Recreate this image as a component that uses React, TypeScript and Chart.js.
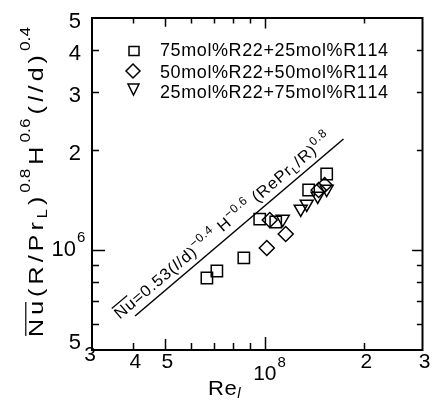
import React, { useEffect, useRef } from 'react';
import { Chart, registerables } from 'chart.js';

Chart.register(...registerables);

// ---- data ----
const squaresX = [6.68e7, 7.16e7, 8.64e7, 9.65e7, 1.079e8, 1.357e8, 1.539e8];
const squaresY = [8.24e5, 8.65e5, 9.47e5, 1.24e6, 1.215e6, 1.517e6, 1.695e6];
const diamondsX = [1.014e8, 1.035e8, 1.157e8, 1.455e8, 1.517e8];
const diamondsY = [1.014e6, 1.232e6, 1.118e6, 1.517e6, 1.57e6];
const trianglesX = [1.133e8, 1.284e8, 1.339e8, 1.445e8, 1.539e8];
const trianglesY = [1.24e6, 1.33e6, 1.377e6, 1.455e6, 1.527e6];
const lineX = [4.05e7, 1.73e8];
const lineY = [6.33e5, 2.16e6];

const seriesNames = ['75mol%R22+25mol%R114', '50mol%R22+50mol%R114', '25mol%R22+75mol%R114'];

const xMin = 3e7;
const xMax = 3e8;
const yMin = 5e5;
const yMax = 5e6;
const xTickValues = [4e7, 5e7, 6e7, 7e7, 8e7, 9e7, 1e8, 2e8];
const yTickValues = [6e5, 7e5, 8e5, 9e5, 1e6, 2e6, 3e6, 4e6];
const xLabelValues = [3e7, 4e7, 5e7, 1e8, 2e8, 3e8];
const xLabelTexts = ['3', '4', '5', '10^8', '2', '3'];
const yLabelValues = [5e5, 1e6, 2e6, 3e6, 4e6, 5e6];
const yLabelTexts = ['5', '10^6', '2', '3', '4', '5'];

const FONT = '"Liberation Sans", Arial, Helvetica, sans-serif';

type Seg = { t: string; size: number; dy?: number; italic?: boolean; bar?: boolean; sx?: number; tight?: boolean };

function setFont(ctx: CanvasRenderingContext2D, s: Seg) {
  ctx.font = `${s.italic ? 'italic ' : ''}${s.size}px ${FONT}`;
}

function measureSegs(ctx: CanvasRenderingContext2D, segs: Seg[]) {
  let w = 0;
  let n = 0;
  for (const s of segs) {
    setFont(ctx, s);
    const chars = Array.from(s.t);
    chars.forEach((ch, j) => {
      w += ctx.measureText(ch).width * (s.sx || 1);
      if (!(s.tight && j < chars.length - 1)) n++;
    });
  }
  return { w, n };
}

function drawSegs(ctx: CanvasRenderingContext2D, segs: Seg[], spacing: number) {
  let cx = 0;
  ctx.textAlign = 'left';
  ctx.textBaseline = 'alphabetic';
  for (const s of segs) {
    setFont(ctx, s);
    const k = s.sx || 1;
    const start = cx;
    let end = cx;
    const chars = Array.from(s.t);
    chars.forEach((ch, j) => {
      ctx.save();
      ctx.translate(cx, s.dy || 0);
      ctx.scale(k, 1);
      ctx.fillText(ch, 0, 0);
      ctx.restore();
      end = cx + ctx.measureText(ch).width * k;
      cx = end + (s.tight && j < chars.length - 1 ? 0 : spacing);
    });
    if (s.bar) {
      const by = (s.dy || 0) - s.size * 0.86;
      ctx.beginPath();
      ctx.lineWidth = 1.2;
      ctx.moveTo(start + 1, by);
      ctx.lineTo(end - 1, by);
      ctx.stroke();
    }
  }
  return cx;
}

function fitSpacing(ctx: CanvasRenderingContext2D, segs: Seg[], target: number) {
  const m = measureSegs(ctx, segs);
  return Math.max(0, (target - m.w) / Math.max(1, m.n - 1));
}

function drawPowerLabel(ctx: CanvasRenderingContext2D, text: string, x: number, y: number, align: 'center' | 'right', base: number) {
  const parts = text.split('^');
  ctx.textBaseline = 'alphabetic';
  if (parts.length === 1) {
    ctx.font = `${base}px ${FONT}`;
    ctx.textAlign = align;
    ctx.fillText(text, x, y);
    return;
  }
  ctx.font = `${base}px ${FONT}`;
  const w1 = ctx.measureText(parts[0]).width;
  ctx.textAlign = 'left';
  const left = align === 'center' ? x - w1 / 2 : x - w1;
  ctx.fillText(parts[0], left, y);
  ctx.font = `${Math.round(base * 0.7)}px ${FONT}`;
  ctx.fillText(parts[1], left + w1 + 1, y - base * 0.62);
}

function tickLen(v: number) {
  const m = v / Math.pow(10, Math.floor(Math.log10(v) + 1e-9));
  if (Math.abs(m - 1) < 1e-6) return 13;
  if (Math.abs(m - 5) < 1e-6) return 11;
  return 7;
}

const decorPlugin = {
  id: 'decor',
  afterDatasetsDraw(chart: any) {
    const ctx: CanvasRenderingContext2D = chart.ctx;
    const a = chart.chartArea;
    const xs = chart.scales.x;
    const ys = chart.scales.y;
    ctx.save();
    ctx.strokeStyle = '#000';
    ctx.fillStyle = '#000';

    // frame
    ctx.lineWidth = 2;
    ctx.strokeRect(a.left, a.top, a.right - a.left, a.bottom - a.top);

    // ticks (inward, all four sides)
    ctx.lineWidth = 1.5;
    ctx.beginPath();
    for (const v of xTickValues) {
      const px = Math.round(xs.getPixelForValue(v)) + 0.5;
      const L = tickLen(v);
      ctx.moveTo(px, a.bottom);
      ctx.lineTo(px, a.bottom - L);
      ctx.moveTo(px, a.top);
      ctx.lineTo(px, a.top + L * 0.8);
    }
    for (const v of yTickValues) {
      const py = Math.round(ys.getPixelForValue(v)) + 0.5;
      const L = tickLen(v);
      ctx.moveTo(a.left, py);
      ctx.lineTo(a.left + L, py);
      ctx.moveTo(a.right, py);
      ctx.lineTo(a.right - L * 0.8, py);
    }
    ctx.stroke();

    // x tick labels
    xLabelValues.forEach((v, i) => {
      const px = xs.getPixelForValue(v);
      const t = xLabelTexts[i];
      let y = a.bottom + 18;
      let x = px + 2;
      if (i === 0) { y = a.bottom + 11; x = px - 2; }
      if (t.includes('^')) { y = a.bottom + 30; x = px; }
      drawPowerLabel(ctx, t, x, y, 'center', 21);
    });

    // y tick labels
    yLabelValues.forEach((v, i) => {
      const py = ys.getPixelForValue(v);
      const t = yLabelTexts[i];
      let y = py + 10;
      let x = a.left - 11;
      if (i === 0) y = py - 1;
      if (t.includes('^')) { y = py + 6; x = a.left - 16; }
      drawPowerLabel(ctx, t, x, y, 'right', 22);
    });

    // x axis title
    ctx.save();
    ctx.translate(208, 395);
    drawSegs(ctx, [{ t: 'Re', size: 21, sx: 1.05 }, { t: 'l', size: 15, dy: 3, italic: true }], 0.5);
    ctx.restore();

    // y axis title
    const ySegs: Seg[] = [
      { t: 'Nu', size: 20, bar: true, sx: 1.25 },
      { t: '(R/Pr', size: 20, sx: 1.25 },
      { t: 'L', size: 14, dy: 4, sx: 1.15 },
      { t: ')', size: 20, sx: 1.25 },
      { t: '0.8', size: 15, dy: -13, sx: 1.15, tight: true },
      { t: 'H', size: 20, sx: 1.25 },
      { t: '0.6', size: 15, dy: -13, sx: 1.15, tight: true },
      { t: '(', size: 20, sx: 1.25 },
      { t: 'l', size: 20, italic: true, sx: 1.25 },
      { t: '/d)', size: 20, sx: 1.25 },
      { t: '0.4', size: 15, dy: -13, sx: 1.15, tight: true },
    ];
    ctx.save();
    ctx.translate(43, 337);
    ctx.rotate(-Math.PI / 2);
    drawSegs(ctx, ySegs, fitSpacing(ctx, ySegs, 310));
    ctx.restore();

    // correlation line annotation
    const p0 = { x: xs.getPixelForValue(lineX[0]), y: ys.getPixelForValue(lineY[0]) };
    const p1 = { x: xs.getPixelForValue(lineX[1]), y: ys.getPixelForValue(lineY[1]) };
    const ang = Math.atan2(p1.y - p0.y, p1.x - p0.x);
    const dir = { x: Math.cos(ang), y: Math.sin(ang) };
    const nrm = { x: dir.y, y: -dir.x };
    const sx = p0.x - dir.x * 14 + nrm.x * 7;
    const sy = p0.y - dir.y * 14 + nrm.y * 7;
    const aSegs: Seg[] = [
      { t: 'Nu', size: 16, bar: true, sx: 1.05 },
      { t: '=0.53(', size: 16, sx: 1.05 },
      { t: 'l', size: 16, italic: true, sx: 1.05 },
      { t: '/d)', size: 16, sx: 1.05 },
      { t: '\u22120.4', size: 12, dy: -7 },
      { t: ' H', size: 16, sx: 1.05 },
      { t: '\u22120.6', size: 12, dy: -7 },
      { t: ' (RePr', size: 16, sx: 1.05 },
      { t: 'L', size: 11, dy: 3 },
      { t: '/R)', size: 16, sx: 1.05 },
      { t: '0.8', size: 12, dy: -7 },
    ];
    ctx.save();
    ctx.translate(sx, sy);
    ctx.rotate(ang);
    drawSegs(ctx, aSegs, 0.8);
    ctx.restore();

    // legend
    ctx.lineWidth = 1.5;
    const lx = 134;
    const rows = [51, 71, 89];
    ctx.strokeRect(lx - 5, rows[0] - 4.5, 10, 9);
    ctx.beginPath();
    ctx.moveTo(lx - 1, rows[1] - 7);
    ctx.lineTo(lx + 6, rows[1]);
    ctx.lineTo(lx - 1, rows[1] + 7);
    ctx.lineTo(lx - 8, rows[1]);
    ctx.closePath();
    ctx.stroke();
    ctx.beginPath();
    ctx.moveTo(lx - 6, rows[2] - 5);
    ctx.lineTo(lx + 5, rows[2] - 5);
    ctx.lineTo(lx - 0.5, rows[2] + 6);
    ctx.closePath();
    ctx.stroke();
    const baselines = [56, 78, 98];
    seriesNames.forEach((name, i) => {
      const segs: Seg[] = [{ t: name, size: 18 }];
      ctx.save();
      ctx.translate(160, baselines[i]);
      drawSegs(ctx, segs, fitSpacing(ctx, segs, 228));
      ctx.restore();
    });

    ctx.restore();
  },
};

function toPoints(xs: number[], ys: number[]) {
  return xs.map((x, i) => ({ x, y: ys[i] }));
}

export default function App() {
  const ref = useRef<HTMLCanvasElement>(null);
  useEffect(() => {
    if (!ref.current) return;
    const chart = new Chart(ref.current, {
      type: 'scatter',
      data: {
        datasets: [
          {
            label: seriesNames[0],
            data: toPoints(squaresX, squaresY),
            pointStyle: 'rect',
            pointRadius: 8,
            borderColor: '#000',
            backgroundColor: 'rgba(0,0,0,0)',
            borderWidth: 1.5,
          },
          {
            label: seriesNames[1],
            data: toPoints(diamondsX, diamondsY),
            pointStyle: 'rectRot',
            pointRadius: 7.5,
            borderColor: '#000',
            backgroundColor: 'rgba(0,0,0,0)',
            borderWidth: 1.5,
          },
          {
            label: seriesNames[2],
            data: toPoints(trianglesX, trianglesY),
            pointStyle: 'triangle',
            pointRotation: 180,
            pointRadius: 7.5,
            borderColor: '#000',
            backgroundColor: 'rgba(0,0,0,0)',
            borderWidth: 1.5,
          },
          {
            type: 'line',
            label: 'correlation',
            data: toPoints(lineX, lineY),
            showLine: true,
            pointRadius: 0,
            borderColor: '#000',
            borderWidth: 1.5,
            fill: false,
          } as any,
        ],
      },
      options: {
        responsive: false,
        devicePixelRatio: 1,
        animation: false,
        layout: { padding: { left: 92, right: 9, top: 18, bottom: 52 } },
        scales: {
          x: { type: 'logarithmic', min: xMin, max: xMax, display: false },
          y: { type: 'logarithmic', min: yMin, max: yMax, display: false },
        },
        plugins: { legend: { display: false }, tooltip: { enabled: false } },
      },
      plugins: [decorPlugin],
    });
    return () => chart.destroy();
  }, []);
  return (
    <div style={{ position: 'absolute', left: 0, top: 0, width: 432, height: 402, background: '#fff' }}>
      <canvas ref={ref} width={432} height={402} style={{ display: 'block', width: 432, height: 402 }} />
    </div>
  );
}
